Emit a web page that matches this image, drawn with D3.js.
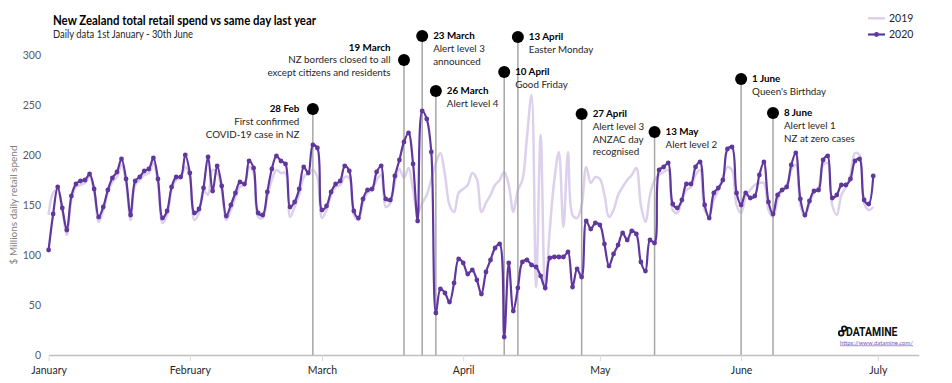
<!DOCTYPE html>
<html>
<head>
<meta charset="utf-8">
<script src="https://cdn.jsdelivr.net/npm/d3@7"></script>
<style>
  html, body { margin: 0; padding: 0; background: #fff; }
  svg { display: block; font-family: Lato, "Open Sans", sans-serif; }
</style>
</head>
<body>
<svg id="chart" width="952" height="383"></svg>
<script>
// ---------------- DATA ----------------
const monthNames = ["January","February","March","April","May","June","July"];
const monthLengths = [31, 29, 31, 30, 31, 30];

// 2020 daily retail spend ($ millions), by month
const spend2020Jan = [105,141,168,147,125,159,171,174,175,181,166,138,148,165,177,183,196,176,140,174,178,184,186,197,176,137,144,168,178,178,200];
const spend2020Feb = [182,142,146,167,198,164,189,169,139,150,162,173,171,194,187,142,140,163,186,199,194,191,148,153,166,188,182,210,207];
const spend2020Mar = [145,149,163,171,174,189,184,144,137,156,165,166,183,189,156,155,179,195,213,222,191,134,244,236,203,42,66,62,53,72,96];
const spend2020Apr = [92,81,85,75,61,83,95,107,111,18,92,44,67,93,95,90,88,79,67,97,98,98,98,103,68,86,78,134,126,132];
const spend2020May = [130,111,89,101,110,122,115,124,121,93,84,115,112,185,188,192,151,147,155,171,171,188,193,150,137,162,167,175,206,208,162];
const spend2020Jun = [150,162,157,159,180,193,153,141,160,165,168,190,202,156,140,154,164,165,195,199,157,160,170,170,176,194,196,155,151,179];

// 2019 same-weekday spend ($ millions), aligned to 2020 dates
const spend2019Jan = [140,162,165,145,120,155,168,170,172,178,163,133,145,162,173,178,190,172,135,170,175,180,182,192,172,132,140,165,175,177,188];
const spend2019Feb = [178,135,142,165,160,185,182,165,135,145,158,168,170,188,182,138,137,158,175,185,182,182,138,148,160,178,182,185,178];
const spend2019Mar = [137,145,160,168,170,178,177,140,135,152,162,165,175,180,148,152,173,186,177,187,165,142,152,160,176,192,202,180,150,143,162];
const spend2019Apr = [166,170,182,176,143,152,160,170,175,183,170,143,165,175,218,260,68,220,65,125,175,203,128,203,140,137,150,188,172,178];
const spend2019May = [176,160,138,145,160,168,175,180,187,150,133,160,175,180,183,185,145,142,155,165,168,180,185,145,140,155,165,178,188,185,150];
const spend2019Jun = [142,158,165,170,172,172,145,138,155,165,170,185,190,150,138,152,162,168,190,192,150,140,160,168,180,202,200,152,145,148];

const yTicks = [0, 50, 100, 150, 200, 250, 300];

// Annotations (event date, heading, text lines, marker height in $M units)
const annDates = ["2020-02-28","2020-03-19","2020-03-23","2020-03-26","2020-04-10","2020-04-13","2020-04-27","2020-05-13","2020-06-01","2020-06-08"];
const annTitles = ["28 Feb","19 March","23 March","26 March","10 April","13 April","27 April","13 May","1 June","8 June"];
const annTexts = [
  ["First confirmed","COVID-19 case in NZ"],
  ["NZ borders closed to all","except citizens and residents"],
  ["Alert level 3","announced"],
  ["Alert level 4"],
  ["Good Friday"],
  ["Easter Monday"],
  ["Alert level 3","ANZAC day","recognised"],
  ["Alert level 2"],
  ["Queen's Birthday"],
  ["Alert level 1","NZ at zero cases"]
];
const annHeights = [246, 295, 319, 264, 283, 318, 241, 223, 276, 242];

// ---------------- BUILD ----------------
const v2020 = [].concat(spend2020Jan, spend2020Feb, spend2020Mar, spend2020Apr, spend2020May, spend2020Jun);
const v2019 = [].concat(spend2019Jan, spend2019Feb, spend2019Mar, spend2019Apr, spend2019May, spend2019Jun);
const dates = [];
monthLengths.forEach((n, m) => { for (let d = 1; d <= n; d++) dates.push(new Date(Date.UTC(2020, m, d))); });
const s2020 = dates.map((d, i) => ({ date: d, value: v2020[i] }));
const s2019 = dates.map((d, i) => ({ date: d, value: v2019[i] }));

const svg = d3.select("#chart");
const C2020 = "#60379d", C2019 = "#dcd0ec", GREY = "#a6a6a6", TXT = "#262626";

const x = d3.scaleUtc()
  .domain([new Date(Date.UTC(2020, 0, 1)), new Date(Date.UTC(2020, 6, 10))])
  .range([48.6, 918.8]);
const y = d3.scaleLinear().domain([0, 300]).range([355, 55]);

// Title
svg.append("text").attr("x", 53).attr("y", 25).attr("font-size", 13.5).attr("font-weight", 700)
  .attr("fill", "#000").attr("textLength", 263).attr("lengthAdjust", "spacingAndGlyphs")
  .text("New Zealand total retail spend vs same day last year");
svg.append("text").attr("x", 53).attr("y", 37.5).attr("font-size", 10.5).attr("fill", TXT)
  .attr("textLength", 140).attr("lengthAdjust", "spacingAndGlyphs")
  .text("Daily data 1st January - 30th June");

// Y axis labels
const yAxis = svg.append("g").attr("transform", "translate(41,0)")
  .call(d3.axisLeft(y).tickValues(yTicks).tickSize(0).tickPadding(0));
yAxis.select(".domain").remove();
yAxis.selectAll("text").attr("font-family", "Lato, sans-serif").attr("font-size", 10.5).attr("fill", "#595959");

svg.append("text").attr("transform", "translate(17,205) rotate(-90)").attr("text-anchor", "middle")
  .attr("font-size", 10).attr("fill", "#7f7f7f").text("$ Millions daily retail spend");

// X axis
const monthTicks = monthNames.map((m, i) => new Date(Date.UTC(2020, i, 1)));
const xAxis = svg.append("g").attr("transform", "translate(0,355)")
  .call(d3.axisBottom(x).tickValues(monthTicks).tickFormat((d, i) => monthNames[i]).tickSize(6).tickSizeOuter(0).tickPadding(6));
xAxis.select(".domain").attr("stroke", "#bfbfbf").attr("stroke-width", 1.5);
xAxis.selectAll(".tick line").attr("stroke", "#d9d9d9").attr("stroke-width", 1);
xAxis.selectAll("text").attr("font-family", "Lato, sans-serif").attr("font-size", 10.5).attr("fill", TXT);

// 2019 line
const line = d3.line().x(d => x(d.date)).y(d => y(d.value)).curve(d3.curveCatmullRom.alpha(0.5));
svg.append("path").datum(s2019).attr("d", line).attr("fill", "none")
  .attr("stroke", C2019).attr("stroke-width", 2.5);

// annotation stems
const ann = annDates.map((d, i) => ({
  date: new Date(d + "T00:00:00Z"), title: annTitles[i], lines: annTexts[i], h: annHeights[i]
}));
svg.append("g").selectAll("line").data(ann).join("line")
  .attr("x1", d => x(d.date)).attr("x2", d => x(d.date))
  .attr("y1", d => y(d.h)).attr("y2", y(0))
  .attr("stroke", GREY).attr("stroke-width", 1.5);

// 2020 line and markers
svg.append("path").datum(s2020).attr("d", line).attr("fill", "none")
  .attr("stroke", C2020).attr("stroke-width", 2.2);
svg.append("g").selectAll("circle").data(s2020).join("circle")
  .attr("cx", d => x(d.date)).attr("cy", d => y(d.value)).attr("r", 2.4).attr("fill", C2020);

// annotation dots and text
const leftSide = new Set(["28 Feb", "19 March"]);
const shiftUp = new Set(["19 March"]);
const LH = 12.6;
const g = svg.append("g");
ann.forEach(a => {
  const cx = x(a.date), cy = y(a.h);
  g.append("circle").attr("cx", cx).attr("cy", cy).attr("r", 6).attr("fill", "#000");
  const left = leftSide.has(a.title);
  const tx = left ? cx - 13.5 : cx + 11;
  const base = cy + 3.3 - (shiftUp.has(a.title) ? LH : 0);
  const t = g.append("text").attr("x", tx).attr("y", base).attr("text-anchor", left ? "end" : "start")
    .attr("font-size", 9.8).attr("fill", TXT);
  t.append("tspan").attr("x", tx).attr("font-weight", 700).attr("fill", "#000").text(a.title);
  a.lines.forEach((l, k) => t.append("tspan").attr("x", tx).attr("dy", LH).text(l));
});

// Legend
const lg = svg.append("g").attr("font-size", 10.5).attr("fill", TXT);
lg.append("line").attr("x1", 868).attr("x2", 885).attr("y1", 18.3).attr("y2", 18.3).attr("stroke", C2019).attr("stroke-width", 2.5);
lg.append("text").attr("x", 889).attr("y", 22).text("2019");
lg.append("line").attr("x1", 868).attr("x2", 885).attr("y1", 34.5).attr("y2", 34.5).attr("stroke", C2020).attr("stroke-width", 2.2);
lg.append("circle").attr("cx", 876.5).attr("cy", 34.5).attr("r", 2.4).attr("fill", C2020);
lg.append("text").attr("x", 889).attr("y", 38.3).text("2020");

// Datamine logo
const logo = svg.append("g");
logo.append("circle").attr("cx", 841.2).attr("cy", 333.2).attr("r", 2.4).attr("fill", "none").attr("stroke", "#111").attr("stroke-width", 1.8);
logo.append("circle").attr("cx", 844.2).attr("cy", 328.6).attr("r", 2.2).attr("fill", "none").attr("stroke", "#111").attr("stroke-width", 1.8);
logo.append("text").attr("x", 846).attr("y", 335.5).attr("font-family", "Roboto, sans-serif").attr("font-weight", 700)
  .attr("font-size", 12.5).attr("fill", "#111").attr("textLength", 51.5).attr("lengthAdjust", "spacingAndGlyphs").text("DATAMINE");
logo.append("text").attr("x", 840).attr("y", 344.5).attr("font-size", 6.5).attr("fill", "#7a5bb5")
  .attr("text-decoration", "underline").attr("textLength", 73).attr("lengthAdjust", "spacingAndGlyphs").text("https://www.datamine.com/");
</script>
</body>
</html>
